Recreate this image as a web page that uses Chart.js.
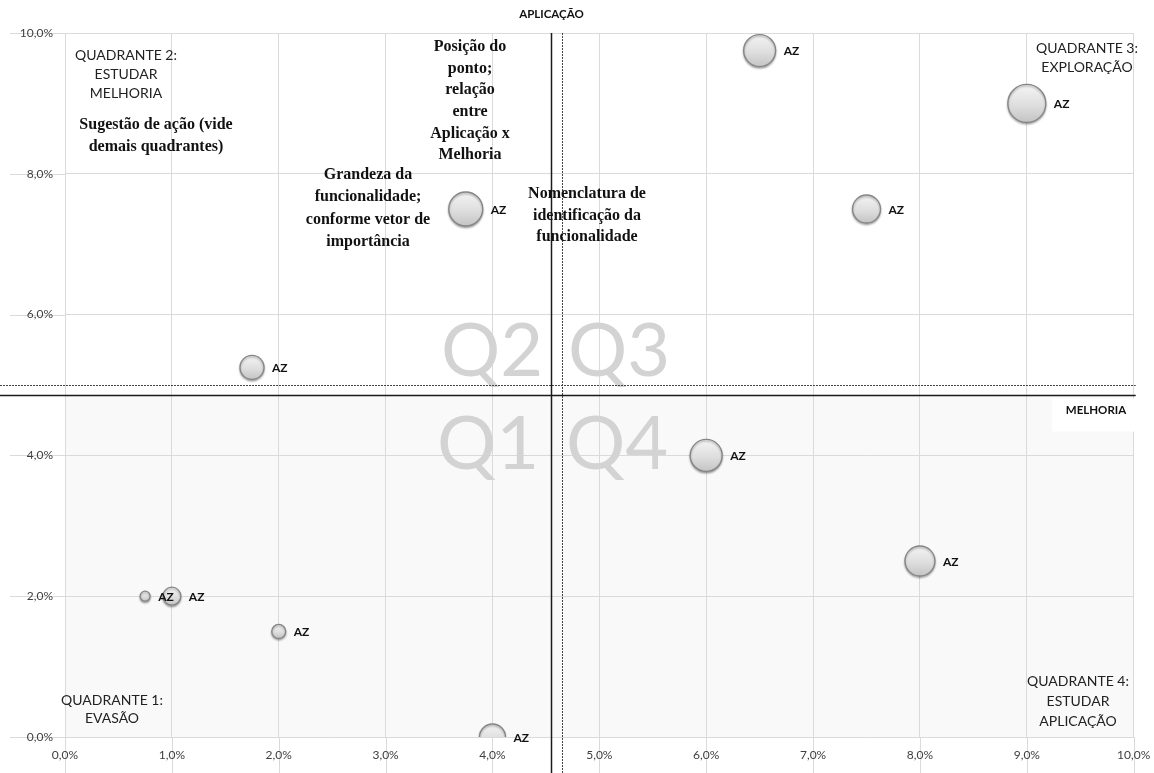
<!DOCTYPE html>
<html><head><meta charset="utf-8">
<script src="https://cdn.jsdelivr.net/npm/chart.js@4.4.1/dist/chart.umd.min.js"></script>
<style>html,body{margin:0;padding:0;background:#fff}canvas{display:block}</style>
</head><body>
<canvas id="c" width="1154" height="773"></canvas>
<script>
// ---- data ----
const melhoria    = [0.75, 1.0, 2.0, 4.0, 1.75, 3.75, 6.5, 9.0, 7.5, 6.0, 8.0];   // x (%)
const aplicacao   = [2.0, 2.0, 1.5, 0.0, 5.25, 7.5, 9.75, 9.0, 7.5, 4.0, 2.5];    // y (%)
const importancia = [5, 9, 7, 13, 12, 17, 16, 19, 14, 16, 15];                    // bubble size
const nomes       = ['AZ','AZ','AZ','AZ','AZ','AZ','AZ','AZ','AZ','AZ','AZ'];
const xTickLabels = ['0,0%','1,0%','2,0%','3,0%','4,0%','5,0%','6,0%','7,0%','8,0%','9,0%','10,0%'];
const yTickLabels = ['0,0%','2,0%','4,0%','6,0%','8,0%','10,0%'];
const eixoX = 4.55, eixoY = 4.86;     // solid crossing lines
const mediaX = 4.65, mediaY = 5.0;    // dotted reference lines

const points = melhoria.map((x, i) => ({x: x, y: aplicacao[i], r: importancia[i]}));

const SANS = 'Lato, "Liberation Sans", sans-serif';
const SERIF = '"Liberation Serif", "DejaVu Serif", serif';

function bubbleFill(ctx) {
  if (ctx.type !== 'data') return '#d8d8d8';
  const ch = ctx.chart, xs = ch.scales.x, ys = ch.scales.y;
  if (!xs || !ys || !ch.chartArea) return '#d8d8d8';
  const px = xs.getPixelForValue(ctx.raw.x), py = ys.getPixelForValue(ctx.raw.y), r = ctx.raw.r;
  const g = ch.ctx.createLinearGradient(px, py - r, px, py + r);
  g.addColorStop(0, '#f4f4f4');
  g.addColorStop(0.55, '#dedede');
  g.addColorStop(1, '#c4c4c4');
  return g;
}

const decor = {
  id: 'decor',
  beforeDraw(chart) {
    const c = chart.ctx, a = chart.chartArea, xs = chart.scales.x, ys = chart.scales.y;
    c.save();
    c.fillStyle = '#ffffff';
    c.fillRect(0, 0, chart.width, chart.height);
    const yl = ys.getPixelForValue(eixoY);
    c.fillStyle = '#f9f9f9';
    c.fillRect(a.left, yl, a.right - a.left, a.bottom - yl);
    // grid lines extended outside the plot
    c.strokeStyle = '#dadada';
    c.lineWidth = 1;
    xs.ticks.forEach(t => {
      const px = Math.round(xs.getPixelForValue(t.value)) + 0.5;
      c.beginPath(); c.moveTo(px, a.bottom); c.lineTo(px, chart.height); c.stroke();
    });
    ys.ticks.forEach(t => {
      const py = Math.round(ys.getPixelForValue(t.value)) + 0.5;
      c.beginPath(); c.moveTo(10, py); c.lineTo(a.left, py); c.stroke();
    });
    c.restore();
  },
  beforeDatasetsDraw(chart) {
    const c = chart.ctx, a = chart.chartArea, xs = chart.scales.x, ys = chart.scales.y;
    c.save();
    // big quadrant letters
    c.fillStyle = '#d3d3d3';
    c.font = '74px ' + SANS;
    c.textBaseline = 'alphabetic';
    c.textAlign = 'left';
    c.fillText('Q2', 441, 376);
    c.fillText('Q1', 437, 469);
    c.fillText('Q3', 568, 376);
    c.fillText('Q4', 566, 469);
    // reference lines
    const vx = Math.round(xs.getPixelForValue(eixoX)) + 0.5;
    const hy = Math.round(ys.getPixelForValue(eixoY)) + 0.5;
    const mx = Math.round(xs.getPixelForValue(mediaX)) + 0.5;
    const my = Math.round(ys.getPixelForValue(mediaY)) + 0.5;
    c.strokeStyle = '#444';
    c.lineWidth = 1;
    c.setLineDash([2, 1]);
    c.beginPath(); c.moveTo(0, my); c.lineTo(a.right + 2, my); c.stroke();
    c.beginPath(); c.moveTo(mx, a.top); c.lineTo(mx, chart.height); c.stroke();
    c.setLineDash([]);
    c.strokeStyle = '#1a1a1a';
    c.lineWidth = 1.5;
    c.beginPath(); c.moveTo(0, hy); c.lineTo(a.right + 2, hy); c.stroke();
    c.beginPath(); c.moveTo(vx, a.top); c.lineTo(vx, chart.height); c.stroke();
    // axis titles
    c.fillStyle = '#111';
    c.font = 'bold 11.5px ' + SANS;
    c.textAlign = 'center';
    c.textBaseline = 'middle';
    c.fillText('APLICAÇÃO', vx, 14);
    c.fillStyle = '#ffffff';
    c.fillRect(1052, hy + 3, a.right - 1052 + 1, 33);
    c.fillStyle = '#111';
    c.fillText('MELHORIA', 1096, hy + 15);
    // quadrant texts
    c.fillStyle = '#222';
    c.font = '14px ' + SANS;
    const block = (lines, x, y, lh) => lines.forEach((s, i) => c.fillText(s, x, y + i * lh));
    block(['QUADRANTE 2:', 'ESTUDAR', 'MELHORIA'], 126, 55, 19);
    block(['QUADRANTE 3:', 'EXPLORAÇÃO'], 1087, 48, 19);
    block(['QUADRANTE 1:', 'EVASÃO'], 112, 700, 18);
    block(['QUADRANTE 4:', 'ESTUDAR', 'APLICAÇÃO'], 1078, 681, 20);
    // explanatory serif texts
    c.fillStyle = '#111';
    c.font = 'bold 16px ' + SERIF;
    block(['Sugestão de ação (vide', 'demais quadrantes)'], 156, 125, 22);
    block(['Posição do', 'ponto;', 'relação', 'entre', 'Aplicação x', 'Melhoria'], 470, 47, 21.6);
    block(['Grandeza da', 'funcionalidade;', 'conforme vetor de', 'importância'], 368, 175, 22.3);
    block(['Nomenclatura de', 'identificação da', 'funcionalidade'], 587, 194, 21.5);
    c.restore();
  },
  beforeDatasetDraw(chart) {
    const c = chart.ctx;
    c.save();
    c.shadowColor = 'rgba(0,0,0,0.3)';
    c.shadowBlur = 2;
    c.shadowOffsetX = 0;
    c.shadowOffsetY = 1.5;
  },
  afterDatasetDraw(chart) {
    chart.ctx.restore();
  },
  afterDatasetsDraw(chart) {
    const c = chart.ctx;
    const meta = chart.getDatasetMeta(0);
    c.save();
    c.fillStyle = '#111';
    c.font = 'bold 12px ' + SANS;
    c.textAlign = 'left';
    c.textBaseline = 'middle';
    meta.data.forEach((el, i) => {
      c.fillText(nomes[i], el.x + importancia[i] + 8, el.y + 1);
    });
    c.restore();
  }
};

new Chart(document.getElementById('c'), {
  type: 'bubble',
  data: {
    datasets: [{
      data: points,
      backgroundColor: bubbleFill,
      borderColor: '#858585',
      borderWidth: 1.3,
      hoverRadius: 0
    }]
  },
  options: {
    responsive: false,
    animation: false,
    events: [],
    layout: {padding: {top: 33, right: 19, left: 0, bottom: 0}},
    plugins: {legend: {display: false}, tooltip: {enabled: false}},
    scales: {
      x: {
        type: 'linear', min: 0, max: 10,
        ticks: {stepSize: 1, padding: 11, color: '#404040', font: {family: SANS, size: 12},
                callback: (v, i) => xTickLabels[i]},
        grid: {color: '#dadada', drawTicks: false},
        border: {display: false},
        afterFit: s => { s.height = 36; s.paddingLeft = 0; s.paddingRight = 0; }
      },
      y: {
        type: 'linear', min: 0, max: 10,
        ticks: {stepSize: 2, padding: 12, color: '#404040', font: {family: SANS, size: 12},
                callback: (v, i) => yTickLabels[i]},
        grid: {color: '#dadada', drawTicks: false},
        border: {display: false},
        afterFit: s => { s.width = 65; s.paddingTop = 0; s.paddingBottom = 0; }
      }
    }
  },
  plugins: [decor]
});
</script>
</body></html>
